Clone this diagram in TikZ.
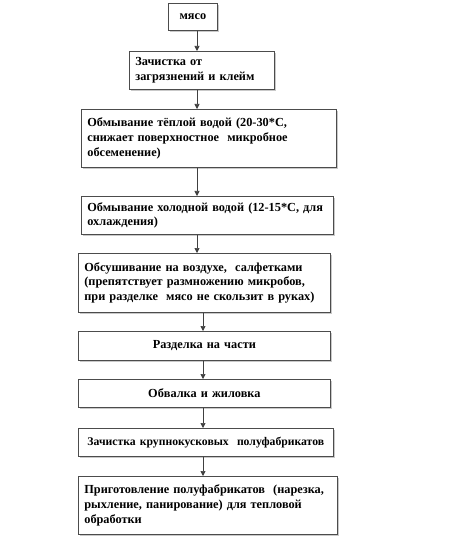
\documentclass[tikz,border=0pt]{standalone}
\usepackage{fontspec}
\setmainfont{Liberation Serif}
\usetikzlibrary{arrows.meta,shadows}
\tikzset{
  box/.style={draw=black!70, line width=0.7bp, fill=white, anchor=north west,
    inner xsep=6bp, inner ysep=2bp,
    drop shadow={shadow xshift=1.2bp, shadow yshift=-1.2bp, fill=black!35, opacity=0.6},
    font=\fontsize{12.3bp}{14.6bp}\selectfont\bfseries},
  arr/.style={draw=black!75, line width=0.7bp, -{Triangle[width=5bp,length=5bp]}}
}
\newcommand{\mybox}[7]{% name, x1,y1,x2,y2, align, text
  \pgfmathsetmacro{\bw}{#4-#2-12}%
  \pgfmathsetmacro{\bh}{#5-#3}%
  \node[box, text width=\bw bp, minimum height=\bh bp, align=#6] (#1) at (#2,#3) {#7};}
\begin{document}
\begin{tikzpicture}[x=1bp,y=-1bp]
\useasboundingbox[fill=white] (0,0) rectangle (474,536);
\mybox{n1}{168}{3}{217}{30}{center}{мясо}
\mybox{n2}{129}{51}{274}{89}{left}{Зачистка от\\загрязнений и клейм}
\mybox{n3}{81}{109}{336}{167}{left}{Обмывание тёплой водой (20-30*С,\\снижает поверхностное\ \ микробное\\обсеменение)}
\mybox{n4}{81}{196}{333}{234}{left}{Обмывание холодной водой (12-15*С, для\\охлаждения)}
\mybox{n5}{78}{253}{330}{312}{left}{Обсушивание на воздухе,\ \ салфетками\\(препятствует размножению микробов,\\при разделке\ \ мясо не скользит в руках)}
\mybox{n6}{78}{331}{330}{360}{center}{Разделка на части}
\mybox{n7}{78}{379}{330}{407}{center}{Обвалка и жиловка}
\mybox{n8}{78}{428}{333}{456}{center}{\makebox[\linewidth][c]{\fontsize{11.7bp}{14bp}\selectfont Зачистка крупнокусковых\ \ полуфабрикатов}}
\mybox{n9}{78}{476}{337}{534}{left}{Приготовление полуфабрикатов\ \ (нарезка,\\рыхление, панирование) для тепловой\\обработки}
\coordinate (ax1) at (197,0);
\coordinate (ax2) at (203,0);
\draw[arr] (ax1 |- n1.south) -- (ax1 |- n2.north);
\draw[arr] (ax1 |- n2.south) -- (ax1 |- n3.north);
\draw[arr] (ax1 |- n3.south) -- (ax1 |- n4.north);
\draw[arr] (ax1 |- n4.south) -- (ax1 |- n5.north);
\draw[arr] (ax2 |- n5.south) -- (ax2 |- n6.north);
\draw[arr] (ax2 |- n6.south) -- (ax2 |- n7.north);
\draw[arr] (ax2 |- n7.south) -- (ax2 |- n8.north);
\draw[arr] (ax2 |- n8.south) -- (ax2 |- n9.north);
\end{tikzpicture}
\end{document}
